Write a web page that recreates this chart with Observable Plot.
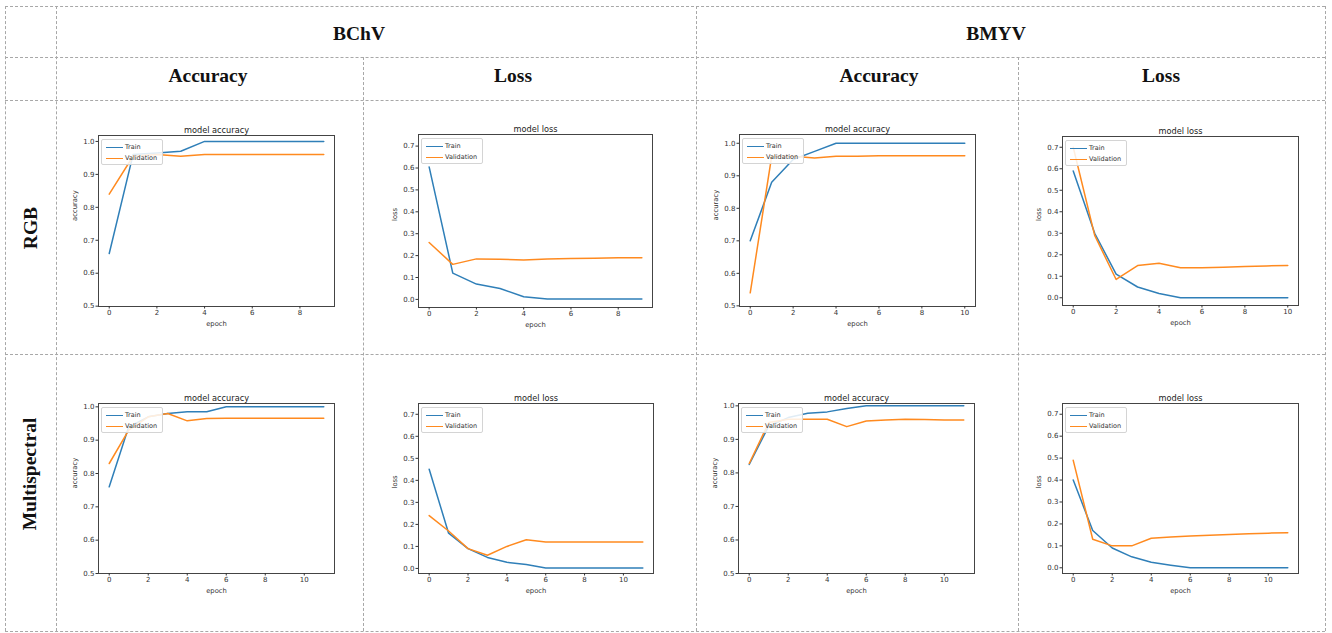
<!DOCTYPE html>
<html>
<head>
<meta charset="utf-8">
<script src="https://cdn.jsdelivr.net/npm/d3@7"></script>
<script src="https://cdn.jsdelivr.net/npm/@observablehq/plot@0.6"></script>
<style>
  html, body { margin: 0; padding: 0; background: #fff; }
  #page { position: relative; width: 1332px; height: 633px; overflow: hidden; background: #fff; }
  .hl { position: absolute; height: 0; border-top: 1px dashed #a8a8a8; }
  .vl { position: absolute; width: 0; border-left: 1px dashed #a8a8a8; }
  .hdr { position: absolute; font-family: "Liberation Serif", "Times New Roman", serif; font-weight: bold; font-size: 19.5px; color: #111; white-space: nowrap; transform: translate(-50%, -50%); }
  .rot { transform: translate(-50%, -50%) rotate(-90deg); }
  .panel { position: absolute; }
  .legend { position: absolute; width: 60px; height: 24px; background: rgba(255,255,255,0.85); border: 1px solid #d4d4d4; border-radius: 2px; font-family: "DejaVu Sans", sans-serif; font-size: 6.5px; color: #333; }
  .legend .sw { position: absolute; left: 4px; width: 17px; height: 1.5px; }
  .legend .lb { position: absolute; left: 23px; line-height: 8px; }
</style>
</head>
<body>
<div id="page"></div>
<script>
// ---------- data ----------
const trainColor = "#2f7fb8";
const valColor = "#ff8a1f";
const seriesNames = ["Train", "Validation"];

const colGroups = ["BChV", "BMYV"];
const colMetrics = ["Accuracy", "Loss", "Accuracy", "Loss"];
const rowNames = ["RGB", "Multispectral"];

const accTicks = [0.5, 0.6, 0.7, 0.8, 0.9, 1.0];
const lossTicks = [0.0, 0.1, 0.2, 0.3, 0.4, 0.5, 0.6, 0.7];
const epochTicks10 = [0, 2, 4, 6, 8];
const epochTicks12 = [0, 2, 4, 6, 8, 10];

// BChV, RGB
const bchvRgbAccTrain = [0.66, 0.96, 0.965, 0.97, 1.0, 1.0, 1.0, 1.0, 1.0, 1.0];
const bchvRgbAccVal   = [0.84, 0.955, 0.96, 0.955, 0.96, 0.96, 0.96, 0.96, 0.96, 0.96];
const bchvRgbLossTrain = [0.605, 0.12, 0.07, 0.05, 0.012, 0.002, 0.002, 0.002, 0.002, 0.002];
const bchvRgbLossVal   = [0.26, 0.16, 0.185, 0.183, 0.18, 0.185, 0.187, 0.188, 0.19, 0.19];
// BMYV, RGB
const bmyvRgbAccTrain = [0.70, 0.88, 0.95, 0.975, 1.0, 1.0, 1.0, 1.0, 1.0, 1.0, 1.0];
const bmyvRgbAccVal   = [0.54, 0.96, 0.96, 0.955, 0.96, 0.96, 0.962, 0.962, 0.962, 0.962, 0.962];
const bmyvRgbLossTrain = [0.59, 0.30, 0.11, 0.05, 0.02, 0.0, 0.0, 0.0, 0.0, 0.0, 0.0];
const bmyvRgbLossVal   = [0.70, 0.29, 0.085, 0.15, 0.16, 0.14, 0.14, 0.142, 0.145, 0.148, 0.15];
// BChV, Multispectral
const bchvMsAccTrain = [0.76, 0.94, 0.97, 0.98, 0.985, 0.985, 1.0, 1.0, 1.0, 1.0, 1.0, 1.0];
const bchvMsAccVal   = [0.83, 0.93, 0.97, 0.98, 0.958, 0.965, 0.966, 0.966, 0.966, 0.966, 0.966, 0.966];
const bchvMsLossTrain = [0.45, 0.16, 0.09, 0.05, 0.028, 0.018, 0.002, 0.002, 0.002, 0.002, 0.002, 0.002];
const bchvMsLossVal   = [0.24, 0.17, 0.09, 0.06, 0.10, 0.13, 0.12, 0.12, 0.12, 0.12, 0.12, 0.12];
// BMYV, Multispectral
const bmyvMsAccTrain = [0.825, 0.94, 0.965, 0.978, 0.982, 0.992, 1.0, 1.0, 1.0, 1.0, 1.0, 1.0];
const bmyvMsAccVal   = [0.828, 0.95, 0.96, 0.96, 0.96, 0.938, 0.955, 0.958, 0.96, 0.959, 0.958, 0.958];
const bmyvMsLossTrain = [0.40, 0.17, 0.09, 0.05, 0.025, 0.012, 0.0, 0.0, 0.0, 0.0, 0.0, 0.0];
const bmyvMsLossVal   = [0.49, 0.13, 0.10, 0.10, 0.135, 0.14, 0.145, 0.148, 0.152, 0.155, 0.158, 0.16];

// ---------- layout ----------
const page = document.getElementById("page");
function hline(x1, x2, y) { const d = document.createElement("div"); d.className = "hl"; d.style.left = x1 + "px"; d.style.width = (x2 - x1) + "px"; d.style.top = y + "px"; page.appendChild(d); }
function vline(x, y1, y2) { const d = document.createElement("div"); d.className = "vl"; d.style.left = x + "px"; d.style.top = y1 + "px"; d.style.height = (y2 - y1) + "px"; page.appendChild(d); }
[6, 57, 100, 354, 631].forEach(y => hline(5, 1325, y));
vline(5, 6, 631); vline(56, 6, 631); vline(696, 6, 631); vline(1325, 6, 631);
vline(363, 57, 631); vline(1018, 57, 631);

function label(text, x, y, rot) {
  const d = document.createElement("div");
  d.className = "hdr" + (rot ? " rot" : "");
  d.textContent = text; d.style.left = x + "px"; d.style.top = y + "px";
  page.appendChild(d);
}
label(colGroups[0], 359, 34); label(colGroups[1], 996, 34);
[208, 513, 879, 1161].forEach((x, i) => label(colMetrics[i], x, 76));
label(rowNames[0], 31, 228, true); label(rowNames[1], 30, 474, true);

// ---------- panels ----------
function panel(p) {
  const ml = 46, mt = 22, mr = 8, mb = 32;
  const W = p.R - p.L + ml + mr, H = p.B - p.T + mt + mb;
  const data = [
    ...p.train.map((v, i) => ({epoch: i, value: v, series: seriesNames[0]})),
    ...p.val.map((v, i) => ({epoch: i, value: v, series: seriesNames[1]}))
  ];
  const chart = Plot.plot({
    width: W, height: H,
    marginLeft: ml, marginTop: mt, marginRight: mr, marginBottom: mb,
    style: {background: "transparent", fontFamily: "'DejaVu Sans', sans-serif", color: "#333", overflow: "visible"},
    x: {domain: p.xd},
    y: {domain: p.yd},
    color: {domain: seriesNames, range: [trainColor, valColor]},
    marks: [
      Plot.frame({stroke: "#444", strokeWidth: 1}),
      Plot.axisX({ticks: p.xt, tickSize: 2.5, tickPadding: 1.5, fontSize: 7, label: null, tickFormat: d => String(d)}),
      Plot.axisY({ticks: p.yt, tickSize: 2.5, tickPadding: 1.5, fontSize: 7, label: null, tickFormat: d3.format(".1f")}),
      Plot.line(data, {x: "epoch", y: "value", z: "series", stroke: "series", strokeWidth: 1.5}),
      Plot.text([p.title], {frameAnchor: "top", dy: -8, fontSize: 8.2, fill: "#222"}),
      Plot.text([p.ylabel], {frameAnchor: "left", dx: -24, rotate: -90, fontSize: 6.8, fill: "#333"}),
      Plot.text(["epoch"], {frameAnchor: "bottom", dy: 19, fontSize: 6.8, fill: "#333"})
    ]
  });
  const wrap = document.createElement("div");
  wrap.className = "panel";
  wrap.style.left = (p.L - ml) + "px";
  wrap.style.top = (p.T - mt) + "px";
  wrap.appendChild(chart);
  const lg = document.createElement("div");
  lg.className = "legend";
  lg.style.left = (ml + 3) + "px";
  lg.style.top = (mt + 4) + "px";
  lg.innerHTML =
    `<div class="sw" style="top:6.5px;background:${trainColor}"></div><div class="lb" style="top:3px">${seriesNames[0]}</div>` +
    `<div class="sw" style="top:17.5px;background:${valColor}"></div><div class="lb" style="top:14px">${seriesNames[1]}</div>`;
  wrap.appendChild(lg);
  page.appendChild(wrap);
}

const accTitle = "model accuracy", lossTitle = "model loss";
panel({L: 98, T: 135, R: 334, B: 306, xd: [-0.45, 9.45], yd: [0.499, 1.018], xt: epochTicks10, yt: accTicks, train: bchvRgbAccTrain, val: bchvRgbAccVal, title: accTitle, ylabel: "accuracy"});
panel({L: 418, T: 134, R: 652, B: 307, xd: [-0.45, 9.45], yd: [-0.037, 0.753], xt: epochTicks10, yt: lossTicks, train: bchvRgbLossTrain, val: bchvRgbLossVal, title: lossTitle, ylabel: "loss"});
panel({L: 739, T: 134, R: 975, B: 306, xd: [-0.5, 10.5], yd: [0.498, 1.027], xt: epochTicks12, yt: accTicks, train: bmyvRgbAccTrain, val: bmyvRgbAccVal, title: accTitle, ylabel: "accuracy"});
panel({L: 1062, T: 136, R: 1298, B: 305, xd: [-0.5, 10.5], yd: [-0.036, 0.75], xt: epochTicks12, yt: lossTicks, train: bmyvRgbLossTrain, val: bmyvRgbLossVal, title: lossTitle, ylabel: "loss"});
panel({L: 98, T: 403, R: 334, B: 573, xd: [-0.55, 11.55], yd: [0.5, 1.01], xt: epochTicks12, yt: accTicks, train: bchvMsAccTrain, val: bchvMsAccVal, title: accTitle, ylabel: "accuracy"});
panel({L: 418, T: 403, R: 653, B: 573, xd: [-0.55, 11.55], yd: [-0.023, 0.749], xt: epochTicks12, yt: lossTicks, train: bchvMsLossTrain, val: bchvMsLossVal, title: lossTitle, ylabel: "loss"});
panel({L: 738, T: 403, R: 974, B: 573, xd: [-0.55, 11.55], yd: [0.5, 1.007], xt: epochTicks12, yt: accTicks, train: bmyvMsAccTrain, val: bmyvMsAccVal, title: accTitle, ylabel: "accuracy"});
panel({L: 1062, T: 403, R: 1298, B: 573, xd: [-0.55, 11.55], yd: [-0.026, 0.749], xt: epochTicks12, yt: lossTicks, train: bmyvMsLossTrain, val: bmyvMsLossVal, title: lossTitle, ylabel: "loss"});
</script>
</body>
</html>
